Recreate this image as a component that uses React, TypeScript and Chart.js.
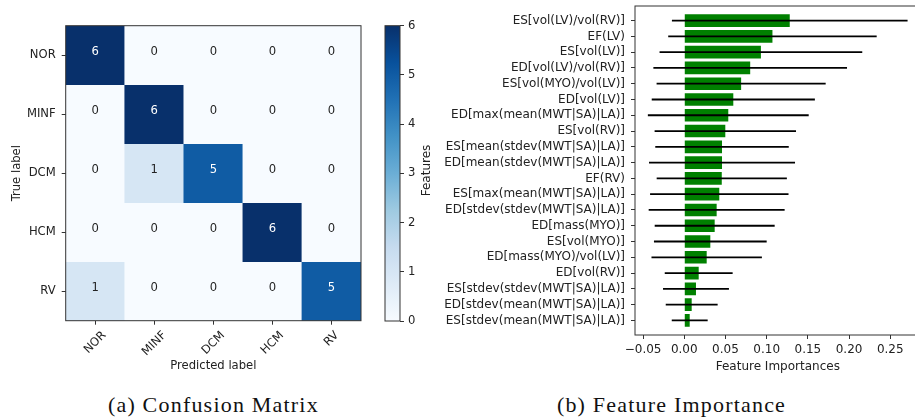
import React, { useEffect, useRef } from "react";
import { Chart, registerables } from "chart.js";

Chart.register(...registerables);

const FONT = "'DejaVu Sans', sans-serif";
const TEXT = "#222";

// ---------- data ----------
const CLASSES = ["NOR", "MINF", "DCM", "HCM", "RV"];
const CONFUSION = [
  [6, 0, 0, 0, 0],
  [0, 6, 0, 0, 0],
  [0, 1, 5, 0, 0],
  [0, 0, 0, 6, 0],
  [1, 0, 0, 0, 5],
];
const CBAR_TICKS = [0, 1, 2, 3, 4, 5, 6];

const FEATURES = [
  "ES[vol(LV)/vol(RV)]",
  "EF(LV)",
  "ES[vol(LV)]",
  "ED[vol(LV)/vol(RV)]",
  "ES[vol(MYO)/vol(LV)]",
  "ED[vol(LV)]",
  "ED[max(mean(MWT|SA)|LA)]",
  "ES[vol(RV)]",
  "ES[mean(stdev(MWT|SA)|LA)]",
  "ED[mean(stdev(MWT|SA)|LA)]",
  "EF(RV)",
  "ES[max(mean(MWT|SA)|LA)]",
  "ED[stdev(stdev(MWT|SA)|LA)]",
  "ED[mass(MYO)]",
  "ES[vol(MYO)]",
  "ED[mass(MYO)/vol(LV)]",
  "ED[vol(RV)]",
  "ES[stdev(stdev(MWT|SA)|LA)]",
  "ED[stdev(mean(MWT|SA)|LA)]",
  "ES[stdev(mean(MWT|SA)|LA)]",
];
const IMPORTANCES = [
  0.128, 0.107, 0.093, 0.08, 0.069, 0.0595, 0.0534, 0.0498, 0.0458, 0.0458,
  0.0455, 0.0425, 0.0393, 0.0369, 0.0316, 0.0272, 0.0175, 0.0142, 0.009, 0.0066,
];
const IMPORTANCE_STD = [
  0.143, 0.1265, 0.123, 0.1175, 0.1026, 0.099, 0.0976, 0.0858, 0.081, 0.0886,
  0.079, 0.084, 0.0825, 0.0728, 0.0684, 0.067, 0.0412, 0.04, 0.0315, 0.0218,
];
const X_TICKS = [-0.05, 0, 0.05, 0.1, 0.15, 0.2, 0.25];

// matplotlib "Blues" colormap control points
const BLUES = [
  "#f7fbff", "#deebf7", "#c6dbef", "#9ecae1", "#6baed6",
  "#4292c6", "#2171b5", "#08519c", "#08306b",
];

function hexToRgb(h: string) {
  return [1, 3, 5].map((i) => parseInt(h.slice(i, i + 2), 16));
}
function blues(t: number) {
  const p = Math.max(0, Math.min(1, t)) * (BLUES.length - 1);
  const i = Math.min(BLUES.length - 2, Math.floor(p));
  const f = p - i;
  const a = hexToRgb(BLUES[i]);
  const b = hexToRgb(BLUES[i + 1]);
  const c = a.map((v, k) => Math.round(v + (b[k] - v) * f));
  return `rgb(${c[0]},${c[1]},${c[2]})`;
}

const CM_MAX = 6;

function boxPlugin(color: string) {
  return {
    id: "box",
    afterDraw(chart: any) {
      const { ctx, chartArea: a } = chart;
      ctx.save();
      ctx.strokeStyle = color;
      ctx.lineWidth = 1;
      ctx.strokeRect(a.left, a.top, a.right - a.left, a.bottom - a.top);
      ctx.restore();
    },
  };
}

function ConfusionMatrix() {
  const ref = useRef<HTMLCanvasElement>(null);
  useEffect(() => {
    const fs = 11.6;
    const font = { family: FONT, size: fs };
    const cellPlugin = {
      id: "cells",
      afterDatasetsDraw(chart: any) {
        const { ctx } = chart;
        const x = chart.scales.x;
        const y = chart.scales.y;
        ctx.save();
        ctx.font = `${fs}px ${FONT}`;
        ctx.textAlign = "center";
        ctx.textBaseline = "middle";
        CONFUSION.forEach((row, r) =>
          row.forEach((v, c) => {
            ctx.fillStyle = v > CM_MAX / 2 ? "#ffffff" : TEXT;
            ctx.fillText(String(v), x.getPixelForValue(c), y.getPixelForValue(r) - 3);
          })
        );
        ctx.restore();
      },
      afterDraw(chart: any) {
        const { ctx, chartArea } = chart;
        const x = chart.scales.x;
        ctx.save();
        ctx.font = `${fs}px ${FONT}`;
        ctx.fillStyle = TEXT;
        ctx.textAlign = "center";
        ctx.textBaseline = "middle";
        CLASSES.forEach((lab, i) => {
          const w = ctx.measureText(lab).width;
          const h = fs * 1.16;
          const bh = (w + h) * Math.SQRT1_2;
          const cx = x.getPixelForValue(i);
          const cy = chartArea.bottom + 4 + 4 + bh / 2;
          ctx.save();
          ctx.translate(cx, cy);
          ctx.rotate(-Math.PI / 4);
          ctx.fillText(lab, 0, 0);
          ctx.restore();
        });
        ctx.restore();
      },
    };
    const chart = new Chart(ref.current!, {
      type: "bar",
      data: {
        labels: CLASSES,
        datasets: CONFUSION.map((row, r) => ({
          data: row.map(() => [r - 0.5, r + 0.5]),
          backgroundColor: row.map((v) => blues(v / CM_MAX)),
          borderWidth: 0,
          grouped: false,
          categoryPercentage: 1,
          barPercentage: 1,
        })) as any,
      },
      options: {
        responsive: false,
        animation: false,
        layout: { padding: { top: 25.7, right: 9, left: 0, bottom: 0 } },
        plugins: { legend: { display: false }, tooltip: { enabled: false } },
        scales: {
          x: {
            type: "category",
            offset: true,
            grid: { drawOnChartArea: false, drawTicks: true, tickLength: 4, offset: false, color: "#333" },
            border: { display: false },
            ticks: { display: false },
            title: { display: true, text: "Predicted label", font, color: TEXT, padding: 0 },
            afterFit: (s: any) => {
              s.height = 373 - 320.7;
              s.paddingLeft = 0;
              s.paddingRight = 0;
            },
          },
          y: {
            type: "linear",
            min: -0.5,
            max: 4.5,
            reverse: true,
            offset: false,
            afterBuildTicks: (s: any) => {
              s.ticks = CLASSES.map((_, i) => ({ value: i }));
            },
            grid: { drawOnChartArea: false, drawTicks: true, tickLength: 4, offset: false, color: "#333" },
            border: { display: false },
            ticks: {
              autoSkip: false,
              font,
              color: TEXT,
              padding: 6,
              callback: (v: any) => CLASSES[v as number],
            },
            title: { display: true, text: "True label", font, color: TEXT, padding: { top: 9.7, bottom: 0 } },
            afterFit: (s: any) => {
              s.width = 65.7;
              s.paddingTop = 0;
              s.paddingBottom = 0;
            },
          },
        },
      },
      plugins: [cellPlugin, boxPlugin("#333")],
    });
    return () => chart.destroy();
  }, []);
  return (
    <canvas
      ref={ref}
      width={370}
      height={373}
      style={{ position: "absolute", left: 0, top: 0, width: 370, height: 373 }}
    />
  );
}

function ColorBar() {
  const ref = useRef<HTMLCanvasElement>(null);
  useEffect(() => {
    const font = { family: FONT, size: 11.6 };
    const chart = new Chart(ref.current!, {
      type: "bar",
      data: {
        labels: [""],
        datasets: [
          {
            data: [[CBAR_TICKS[0], CBAR_TICKS[CBAR_TICKS.length - 1]]] as any,
            backgroundColor: (c: any) => {
              const area = c.chart.chartArea;
              if (!area) return BLUES[0];
              const g = c.chart.ctx.createLinearGradient(0, area.bottom, 0, area.top);
              BLUES.forEach((col, i) => g.addColorStop(i / (BLUES.length - 1), col));
              return g;
            },
            borderWidth: 0,
            categoryPercentage: 1,
            barPercentage: 1,
          },
        ],
      },
      options: {
        responsive: false,
        animation: false,
        layout: { padding: { top: 25.7, left: 5, right: 0, bottom: 340 - 321 } },
        plugins: { legend: { display: false }, tooltip: { enabled: false } },
        scales: {
          x: { display: false },
          y: {
            position: "right",
            min: 0,
            max: 6,
            afterBuildTicks: (s: any) => {
              s.ticks = CBAR_TICKS.map((v) => ({ value: v }));
            },
            grid: { drawOnChartArea: false, drawTicks: true, tickLength: 4, color: "#333" },
            border: { display: false },
            ticks: { font, color: TEXT, padding: 4, callback: (v: any) => String(v) },
            afterFit: (s: any) => {
              s.width = 20;
              s.paddingTop = 0;
              s.paddingBottom = 0;
            },
          },
        },
      },
      plugins: [boxPlugin("#333")],
    });
    return () => chart.destroy();
  }, []);
  return (
    <canvas
      ref={ref}
      width={40}
      height={340}
      style={{ position: "absolute", left: 380, top: 0, width: 40, height: 340 }}
    />
  );
}

function FeatureImportance() {
  const ref = useRef<HTMLCanvasElement>(null);
  useEffect(() => {
    const fs = 12;
    const font = { family: FONT, size: fs };
    const errPlugin = {
      id: "errbars",
      afterDatasetsDraw(chart: any) {
        const { ctx } = chart;
        const x = chart.scales.x;
        const y = chart.scales.y;
        ctx.save();
        ctx.strokeStyle = "#000";
        ctx.lineWidth = 1.8;
        IMPORTANCES.forEach((v, i) => {
          const py = y.getPixelForValue(i);
          ctx.beginPath();
          ctx.moveTo(x.getPixelForValue(v - IMPORTANCE_STD[i]), py);
          ctx.lineTo(x.getPixelForValue(v + IMPORTANCE_STD[i]), py);
          ctx.stroke();
        });
        ctx.restore();
      },
    };
    const chart = new Chart(ref.current!, {
      type: "bar",
      data: {
        datasets: [
          {
            data: IMPORTANCES.map((v, i) => ({ x: v, y: i })) as any,
            backgroundColor: "#008000",
            borderWidth: 0,
            barPercentage: 0.8,
            categoryPercentage: 1,
          },
        ],
      },
      options: {
        indexAxis: "y",
        responsive: false,
        animation: false,
        layout: { padding: { top: 6, right: 510 - 505.6, left: 0, bottom: 0 } },
        plugins: { legend: { display: false }, tooltip: { enabled: false } },
        scales: {
          x: {
            type: "linear",
            min: -0.0598,
            max: 0.2868,
            offset: false,
            afterBuildTicks: (s: any) => {
              s.ticks = X_TICKS.map((v) => ({ value: v }));
            },
            grid: { drawOnChartArea: false, drawTicks: true, tickLength: 4, offset: false, color: "#333" },
            border: { display: false },
            ticks: {
              font,
              color: TEXT,
              padding: 4,
              callback: (v: any) => (v as number).toFixed(2).replace("-", "\u2212"),
            },
            title: { display: true, text: "Feature Importances", font, color: TEXT, padding: 0 },
            afterFit: (s: any) => {
              s.height = 374 - 335;
              s.paddingLeft = 0;
              s.paddingRight = 0;
            },
          },
          y: {
            type: "linear",
            reverse: true,
            min: -0.925,
            max: 19.925,
            offset: false,
            afterBuildTicks: (s: any) => {
              s.ticks = FEATURES.map((_, i) => ({ value: i }));
            },
            grid: { drawOnChartArea: false, drawTicks: true, tickLength: 4, offset: false, color: "#333" },
            border: { display: false },
            ticks: {
              autoSkip: false,
              font,
              color: TEXT,
              padding: 6,
              callback: (v: any) => FEATURES[v as number],
            },
            title: { display: true, text: "Features", font, color: TEXT, padding: { top: 4.8, bottom: 0 } },
            afterFit: (s: any) => {
              s.width = 220;
              s.paddingTop = 0;
              s.paddingBottom = 0;
            },
          },
        },
      },
      plugins: [errPlugin, boxPlugin("#333")],
    });
    return () => chart.destroy();
  }, []);
  return (
    <canvas
      ref={ref}
      width={510}
      height={374}
      style={{ position: "absolute", left: 415, top: 0, width: 510, height: 374 }}
    />
  );
}

const captionStyle = (cx: number): React.CSSProperties => ({
  position: "absolute",
  left: cx - 160,
  width: 320,
  top: 390,
  height: 30,
  lineHeight: "30px",
  textAlign: "center",
  fontFamily: "'Liberation Serif', serif",
  fontSize: 22,
  letterSpacing: 1.2,
  color: "#111",
  whiteSpace: "nowrap",
});

export default function App() {
  return (
    <div
      style={{
        position: "fixed",
        left: 0,
        top: 0,
        width: 915,
        height: 419,
        overflow: "hidden",
        background: "#fff",
      }}
    >
      <ConfusionMatrix />
      <ColorBar />
      <FeatureImportance />
      <div style={captionStyle(213.4)}>(a) Confusion Matrix</div>
      <div style={captionStyle(671.5)}>(b) Feature Importance</div>
    </div>
  );
}
